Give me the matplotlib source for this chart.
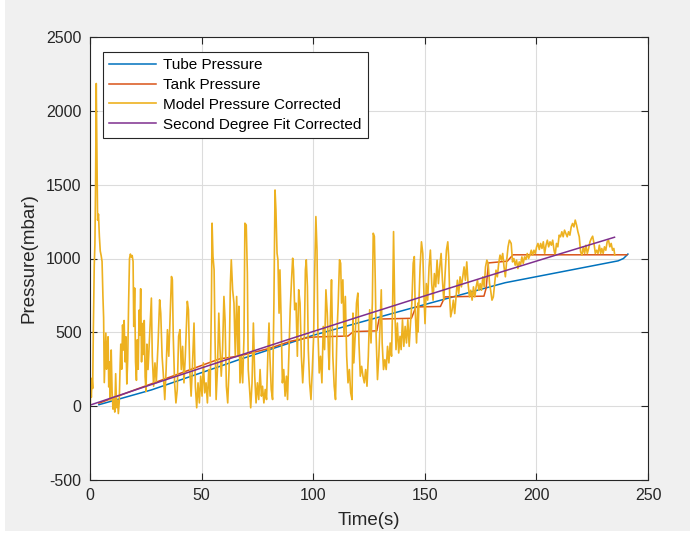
import matplotlib
matplotlib.use("Agg")
import matplotlib.pyplot as plt
from matplotlib.patches import Rectangle

plt.rcParams["font.family"] = ["Liberation Sans", "DejaVu Sans"]
plt.rcParams["axes.unicode_minus"] = False

# ---- Tube pressure (mbar) vs time (s)
tube_time = [4, 27.5, 57.5, 66, 100, 147, 186, 236.6, 239, 241]
tube_pressure = [10, 110, 266, 311, 480, 676, 836, 984, 1000, 1030]

# ---- Tank pressure: stepwise filling
tank_time = [4, 20, 40, 58, 67, 80, 90, 98, 101.5, 115.6, 118, 128.5, 129.5,
             144, 146, 157, 159, 176.5, 177.5, 178.5, 187, 189.5, 240.5]
tank_pressure = [20, 110, 220, 320, 340, 390, 440, 465, 469, 475, 505, 510, 590,
                 595, 672, 675, 740, 745, 800, 970, 982, 1025, 1025]

# ---- Second degree fit (corrected)
fit_time = [0, 30, 60, 90, 120, 150, 180, 210, 235]
fit_pressure = [7, 159, 309, 457, 603, 747, 889, 1029, 1144]

# ---- Model pressure (corrected), recorded in segments
model_time_0_26 = [0.0, 0.3, 0.6, 0.9, 1.2, 1.5, 1.9, 2.2, 2.5, 2.8, 3.1, 3.4, 3.8, 4.2, 4.6,
                   5.0, 5.4, 5.8, 6.1, 6.4, 6.8, 7.1, 7.4, 7.8, 8.1, 8.4, 8.8, 9.1, 9.5, 9.9,
                   10.3, 10.7, 11.1, 11.5, 11.9, 12.3, 12.7, 13.1, 13.5, 13.8, 14.2, 14.6, 15.0,
                   15.3, 15.7, 16.1, 16.5, 16.9, 17.3, 17.7, 18.1, 18.5, 18.9, 19.3, 19.6, 20.0,
                   20.4, 20.8, 21.2, 21.6, 22.0, 22.3, 22.7, 23.1, 23.5, 23.9, 24.3, 24.7, 25.1, 25.5]
model_p_0_26 = [-80, 150, 60, 190, 120, 520, 950, 1100, 1500, 2185, 1700, 1260, 1300, 1150, 1050,
                1020, 980, 740, 600, 160, 350, 495, 250, 420, 470, 130, 300, 40, 380, 100,
                -20, 60, -40, 220, -10, 40, -50, 30, 280, 420, 250, 550, 380,
                580, 300, 470, 150, 320, 700, 1000, 1030, 1010, 1020, 980, 540, 800,
                300, 175, 450, 250, 650, 480, 795, 300, 560, 350, 580, 200, 100, 420]

model_time_26_66 = [26.0, 26.7, 27.5, 27.9, 28.5, 29.1, 29.7, 30.5, 31.2, 31.7, 32.3, 32.9, 33.5,
                    34.1, 34.7, 35.3, 35.9, 36.5, 36.9, 37.3, 37.9, 38.5, 39.1, 39.7, 40.3, 40.9,
                    41.5, 42.1, 42.7, 43.6, 44.1, 44.7, 45.3, 45.9, 46.6, 47.2, 47.8, 48.4, 49.0,
                    49.6, 50.2, 50.8, 51.4, 52.0, 52.6, 53.2, 53.8, 54.4, 54.7, 55.1, 55.6, 56.0,
                    56.5, 57.1, 57.7, 58.2, 58.8, 59.4, 60.0, 60.5, 61.1, 61.7, 62.3, 62.9, 63.3,
                    63.9, 64.5, 65.1, 65.7]
model_p_26_66 = [248, 473, 732, 338, 135, 293, 158, 428, 720, 630, 338, 203, 45,
                 248, 518, 338, 608, 878, 856, 473, 158, 22, 113, 473, 518, 248,
                 405, 158, 338, 710, 653, 248, 68, 270, 563, 135, -11, 158, 22,
                 203, 68, 293, 90, 158, 22, 248, 68, 698, 1239, 1013, 923, 473,
                 45, 248, 630, 405, 203, 383, 743, 585, 135, 22, 248, 833, 991,
                 788, 698, 338, 743]

model_time_66_107 = [66.3, 66.7, 67.2, 67.8, 68.4, 69.0, 69.4, 70.0, 70.5, 70.9, 71.5, 72.0, 72.6,
                     73.2, 73.8, 74.4, 75.0, 75.6, 76.2, 76.8, 77.3, 77.9, 78.5, 79.1, 79.7, 80.2,
                     80.6, 81.2, 81.8, 82.4, 82.9, 83.3, 83.8, 84.2, 84.7, 85.1, 85.6, 86.2, 86.8,
                     87.4, 88.0, 88.5, 89.1, 89.7, 90.3, 90.8, 91.2, 91.7, 92.3, 92.9, 93.5, 94.1,
                     94.7, 95.3, 95.9, 96.5, 96.9, 97.4, 97.8, 98.4, 99.0, 99.6, 100.2, 100.6,
                     101.2, 101.7, 102.1, 102.7, 103.3, 103.9, 104.5, 105.1, 105.7, 106.3, 106.9]
model_p_66_107 = [338, 676, 158, 338, 158, 473, 1239, 1227, 901, 248, 113, -11, 158,
                  563, 203, 22, 158, 45, 248, 68, 135, 22, 113, 45, 360, 563,
                  338, 113, 45, 698, 1464, 1329, 1036, 991, 630, 923, 608, 158, 248,
                  68, 203, 45, 338, 653, 856, 1002, 923, 653, 698, 338, 788, 698,
                  338, 158, 338, 923, 991, 811, 383, 158, 45, 248, 473, 856,
                  1284, 1058, 518, 225, 338, 158, 540, 383, 788, 630, 338]

model_time_107_147 = [107.2, 107.8, 108.2, 108.8, 109.4, 110.0, 110.6, 111.2, 111.8, 112.3, 112.7,
                      113.3, 113.8, 114.4, 115.0, 115.6, 116.2, 116.8, 117.4, 117.8, 118.2, 118.8,
                      119.4, 120.0, 120.5, 121.1, 121.7, 122.3, 122.9, 123.5, 124.1, 124.7, 125.3,
                      125.9, 126.5, 126.9, 127.4, 127.8, 128.2, 128.8, 129.4, 130.0, 130.5, 130.9,
                      131.5, 132.1, 132.7, 133.3, 133.9, 134.5, 135.1, 135.6, 136.0, 136.5, 137.1,
                      137.7, 138.3, 138.9, 139.4, 140.0, 140.6, 141.2, 141.8, 142.4, 143.0, 143.6,
                      144.2, 144.8, 145.3, 145.7, 146.3, 146.9]
model_p_107_147 = [248, 653, 856, 338, 135, 45, 473, 698, 991, 968, 698,
                   856, 473, 743, 338, 158, 248, 90, 45, 630, 293, 473,
                   698, 766, 428, 203, 270, 203, 158, 248, 135, 338, 653,
                   428, 698, 1171, 1149, 856, 473, 180, 338, 563, 788, 428,
                   248, 315, 248, 405, 293, 428, 338, 698, 1182, 698, 383,
                   563, 360, 473, 383, 585, 405, 540, 428, 585, 405, 563,
                   698, 968, 1013, 653, 428, 698]

model_time_147_188 = [147.0, 147.4, 147.9, 148.5, 149.1, 149.7, 150.1, 150.7, 151.3, 151.9, 152.5,
                      153.1, 153.7, 154.3, 154.9, 155.5, 156.1, 156.7, 157.3, 157.9, 158.5, 159.1,
                      159.7, 160.3, 160.7, 161.2, 161.6, 162.2, 162.8, 163.4, 164.0, 164.6, 165.2,
                      165.8, 166.4, 167.0, 167.6, 168.2, 168.8, 169.4, 170.0, 170.6, 171.2, 171.8,
                      172.4, 173.0, 173.6, 174.2, 174.8, 175.4, 176.0, 176.6, 177.2, 177.8, 178.4,
                      179.0, 179.5, 180.1, 180.7, 181.3, 181.9, 182.5, 183.1, 183.7, 184.3, 184.9,
                      185.5, 186.1, 186.7, 187.3, 187.9]
model_p_147_188 = [503, 718, 943, 1113, 1034, 718, 559, 830, 718, 943, 1057,
                   830, 718, 898, 808, 989, 830, 943, 1034, 853, 718, 898,
                   1057, 1113, 1011, 718, 605, 650, 718, 627, 740, 853, 763,
                   876, 808, 876, 943, 853, 977, 830, 740, 785, 718, 808,
                   740, 808, 853, 785, 830, 785, 876, 808, 943, 989, 966,
                   830, 785, 718, 740, 830, 921, 876, 966, 1023, 989, 1034,
                   943, 876, 989, 1079, 1124]

model_time_188_235 = [188.7, 189.3, 189.9, 190.5, 191.1, 191.7, 192.3, 192.9, 193.5, 194.1, 194.7,
                      195.3, 195.9, 196.5, 197.1, 197.7, 198.3, 198.9, 199.5, 200.1, 200.7, 201.3,
                      201.9, 202.5, 203.1, 203.7, 204.3, 204.9, 205.5, 206.1, 206.7, 207.3, 207.9,
                      208.4, 209.0, 209.6, 210.2, 210.8, 211.4, 212.0, 212.6, 213.2, 213.8, 214.4,
                      215.0, 215.6, 216.2, 216.8, 217.4, 218.0, 218.6, 219.2, 219.8, 220.4, 221.0,
                      221.6, 222.2, 222.8, 223.4, 224.0, 224.6, 225.2, 225.8, 226.4, 227.0, 227.6,
                      228.2, 228.8, 229.3, 229.9, 230.5, 231.1, 231.7, 232.3, 232.9, 233.5, 234.1,
                      234.7, 235.1]
model_p_188_235 = [1102, 977, 1000, 955, 989, 932, 977, 955, 1011, 966, 1011,
                   993, 1034, 1000, 1023, 1056, 1023, 1056, 1034, 1079, 1102, 1061,
                   1102, 1068, 1113, 1034, 1090, 1124, 1079, 1113, 1090, 1124, 1056,
                   1023, 1102, 1079, 1158, 1147, 1181, 1147, 1192, 1169, 1147, 1181,
                   1158, 1214, 1237, 1214, 1260, 1226, 1181, 1147, 1045, 1023, 1079,
                   1034, 1090, 1034, 1068, 1113, 1135, 1151, 1102, 1034, 1056, 1034,
                   1090, 1034, 1068, 1034, 1079, 1056, 1113, 1124, 1079, 1102, 1056,
                   1068, 1023]

model_time = (model_time_0_26 + model_time_26_66 + model_time_66_107 +
              model_time_107_147 + model_time_147_188 + model_time_188_235)
model_pressure = (model_p_0_26 + model_p_26_66 + model_p_66_107 +
                  model_p_107_147 + model_p_147_188 + model_p_188_235)

x_ticks = [0, 50, 100, 150, 200, 250]
y_ticks = [-500, 0, 500, 1000, 1500, 2000, 2500]

labels = ["Tube Pressure", "Tank Pressure", "Model Pressure Corrected",
          "Second Degree Fit Corrected"]
colors = ["#0072BD", "#D95319", "#EDB120", "#7E2F8E"]

W, H = 696, 535
fig = plt.figure(figsize=(W / 100, H / 100), dpi=100, facecolor="white")
fig.patches.append(Rectangle((5 / W, 4 / H), 685 / W, 1 - 4 / H,
                             transform=fig.transFigure, facecolor="#f0f0f0",
                             edgecolor="none", zorder=-10))

ax = fig.add_axes([90 / W, 55 / H, 558 / W, 443 / H])
ax.set_facecolor("white")

ax.plot(tube_time, tube_pressure, color=colors[0], lw=1.1, label=labels[0])
ax.plot(tank_time, tank_pressure, color=colors[1], lw=1.1, label=labels[1])
ax.plot(model_time, model_pressure, color=colors[2], lw=1.2, label=labels[2])
ax.plot(fit_time, fit_pressure, color=colors[3], lw=1.1, label=labels[3])

ax.set_xlim(0, 250)
ax.set_ylim(-500, 2500)
ax.set_xticks(x_ticks)
ax.set_yticks(y_ticks)
ax.grid(True, color="#dcdcdc", lw=0.8)
ax.set_axisbelow(True)

axis_col = "#262626"
for s in ax.spines.values():
    s.set_color(axis_col)
    s.set_linewidth(0.8)
ax.tick_params(direction="in", length=5, width=0.8, color=axis_col,
               labelcolor=axis_col, labelsize=11.5, pad=6,
               top=True, right=True)

ax.set_xlabel("Time(s)", fontsize=13.5, color=axis_col, labelpad=6)
ax.set_ylabel("Pressure(mbar)", fontsize=13.5, color=axis_col, labelpad=6)

leg = ax.legend(loc="upper left", bbox_to_anchor=(13 / 558, 1 - 15 / 443),
                borderaxespad=0, fontsize=11, handlelength=3.1, handletextpad=0.45,
                labelspacing=0.38, borderpad=0.4, fancybox=False, framealpha=1,
                edgecolor=axis_col)
leg.get_frame().set_linewidth(0.8)

fig.savefig("out.png", dpi=100, facecolor=fig.get_facecolor())
